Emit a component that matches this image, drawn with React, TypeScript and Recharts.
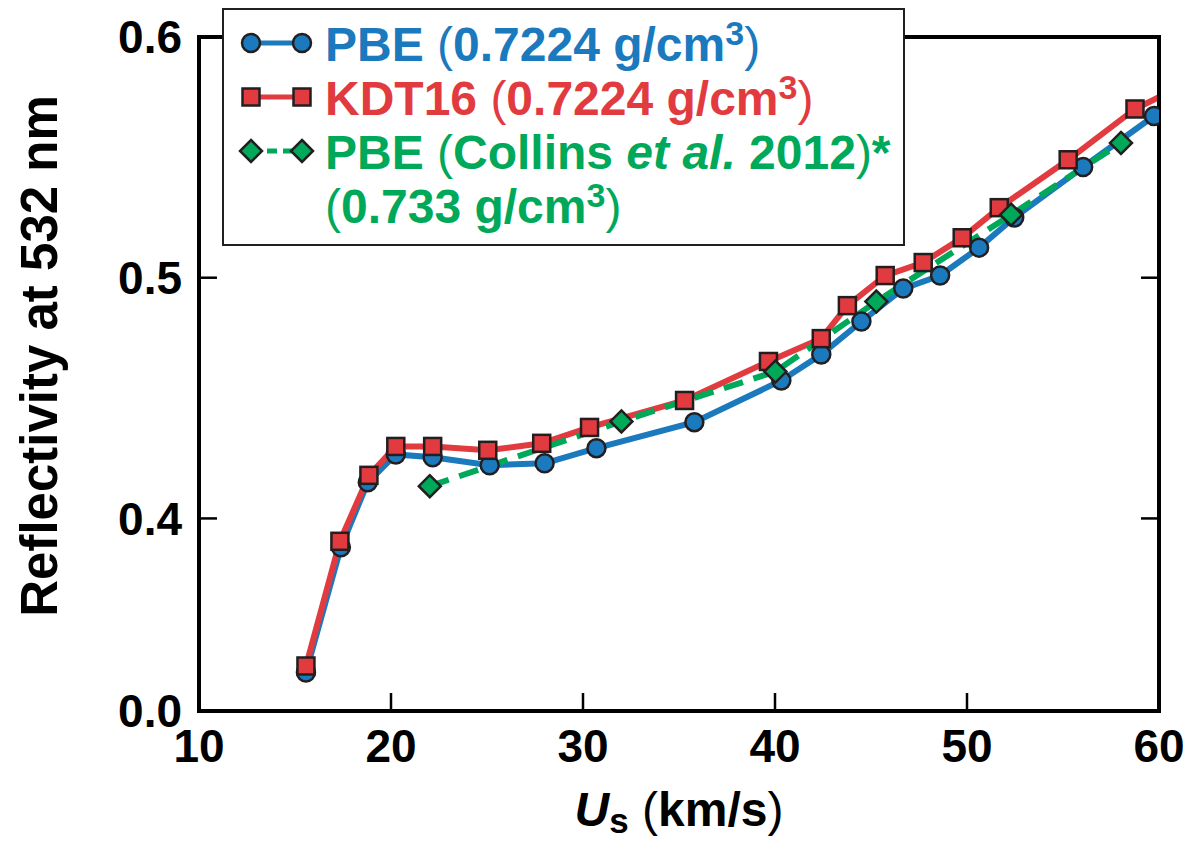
import { LineChart, Line, XAxis, YAxis, Legend } from "recharts";

const FONT = '"Liberation Sans", Arial, Helvetica, sans-serif';
const BLUE = "#1b79be";
const RED = "#e13b40";
const GREEN = "#00a85a";
const EDGE = "#231f20";

// PBE (0.7224 g/cm3)
const pbeUs = [15.57, 17.39, 18.79, 20.25, 22.17, 25.14, 28.0, 30.7, 35.8, 40.33, 42.41, 44.5, 46.68, 48.6, 50.63, 52.46, 56.05, 59.74];
const pbeR = [0.336, 0.388, 0.415, 0.4266, 0.4254, 0.4221, 0.4229, 0.4292, 0.44, 0.4573, 0.4681, 0.4818, 0.4955, 0.5009, 0.5125, 0.525, 0.546, 0.5672];

// KDT16 (0.7224 g/cm3), last point sits past the frame
const kdtUs = [15.57, 17.34, 18.85, 20.25, 22.17, 25.04, 27.85, 30.34, 35.29, 39.66, 42.41, 43.77, 45.74, 47.72, 49.75, 51.68, 55.27, 58.75, 62.2];
const kdtR = [0.3387, 0.3905, 0.4179, 0.4299, 0.4299, 0.4283, 0.4312, 0.4378, 0.449, 0.4652, 0.4747, 0.4884, 0.5009, 0.5063, 0.5166, 0.5291, 0.549, 0.5701, 0.5838];

// PBE, Collins et al. 2012 (0.733 g/cm3)
const collinsUs = [22.02, 32.0, 40.02, 45.28, 52.3, 58.02];
const collinsR = [0.4134, 0.4403, 0.461, 0.4901, 0.5262, 0.556];

const xTicks = [10, 20, 30, 40, 50, 60];
const yTicks = [0.32, 0.4, 0.5, 0.6];
const yTickLabels = ["0.0", "0.4", "0.5", "0.6"];

const toRows = (xs: number[], ys: number[]) => xs.map((x, i) => ({ x, y: ys[i] }));
const pbeData = toRows(pbeUs, pbeR);
const kdtData = toRows(kdtUs, kdtR);
const collinsData = toRows(collinsUs, collinsR);

const tickText = { fontSize: 46, fontWeight: 700, fill: "#000", fontFamily: FONT };
const tickLineStyle = { stroke: "#000", strokeWidth: 2.5 };
const axisLineStyle = { stroke: "#000", strokeWidth: 4, strokeLinecap: "square" as const };

const circleDot = (p: any) =>
  p.cx == null ? <g key={`c${p.index}`} /> : (
    <circle key={`c${p.index}`} cx={p.cx} cy={p.cy} r={9} fill={BLUE} stroke={EDGE} strokeWidth={2.5} />
  );

const squareDot = (p: any) =>
  p.cx == null ? <g key={`s${p.index}`} /> : (
    <rect key={`s${p.index}`} x={p.cx - 8.5} y={p.cy - 8.5} width={17} height={17} fill={RED} stroke={EDGE} strokeWidth={2.5} />
  );

const diamondDot = (p: any) =>
  p.cx == null ? <g key={`d${p.index}`} /> : (
    <polygon
      key={`d${p.index}`}
      points={`${p.cx},${p.cy - 11} ${p.cx + 11},${p.cy} ${p.cx},${p.cy + 11} ${p.cx - 11},${p.cy}`}
      fill={GREEN}
      stroke={EDGE}
      strokeWidth={2.5}
    />
  );

function XTitle({ viewBox }: any) {
  const { x, y, width } = viewBox;
  return (
    <text x={x + width / 2} y={y + 115} textAnchor="middle" fontFamily={FONT} fontSize={48} fontWeight={700} fill="#000">
      <tspan fontStyle="italic">U</tspan>
      <tspan fontSize={35} dy={7}>s</tspan>
      <tspan dy={-7}> </tspan>
      <tspan fontWeight={400}>(</tspan>
      <tspan>km/s</tspan>
      <tspan fontWeight={400}>)</tspan>
    </text>
  );
}

function YTitle({ viewBox }: any) {
  const cy = viewBox.y + viewBox.height / 2 - 18;
  return (
    <text x={57} y={cy} transform={`rotate(-90, 57, ${cy})`} textAnchor="middle" fontFamily={FONT} fontSize={51} fontWeight={700} fill="#000">
      Reflectivity at 532 nm
    </text>
  );
}

function LegendBox() {
  const txt = { fontFamily: FONT, fontSize: 48, fontWeight: 700 };
  const sup = (
    <tspan fontSize={34} dy={-16}>
      3
    </tspan>
  );
  return (
    <div style={{ width: 683, height: 238, boxSizing: "border-box", border: `2px solid ${EDGE}`, background: "#fff" }}>
      <svg width={679} height={234} style={{ display: "block" }}>
        <line x1={27} y1={33} x2={78} y2={33} stroke={BLUE} strokeWidth={5} />
        <circle cx={27} cy={33} r={9} fill={BLUE} stroke={EDGE} strokeWidth={2.5} />
        <circle cx={78} cy={33} r={9} fill={BLUE} stroke={EDGE} strokeWidth={2.5} />
        <text x={101} y={51} fill={BLUE} {...txt}>
          PBE <tspan fontWeight={400}>(</tspan>0.7224 g/cm{sup}
          <tspan dy={16} fontWeight={400}>)</tspan>
        </text>

        <line x1={27} y1={87} x2={78} y2={87} stroke={RED} strokeWidth={5} />
        <rect x={18.5} y={78.5} width={17} height={17} fill={RED} stroke={EDGE} strokeWidth={2.5} />
        <rect x={69.5} y={78.5} width={17} height={17} fill={RED} stroke={EDGE} strokeWidth={2.5} />
        <text x={101} y={105} fill={RED} {...txt}>
          KDT16 <tspan fontWeight={400}>(</tspan>0.7224 g/cm{sup}
          <tspan dy={16} fontWeight={400}>)</tspan>
        </text>

        <line x1={27} y1={141} x2={78} y2={141} stroke={GREEN} strokeWidth={5} strokeDasharray="10 6" />
        <polygon points="27,130 38,141 27,152 16,141" fill={GREEN} stroke={EDGE} strokeWidth={2.5} />
        <polygon points="78,130 89,141 78,152 67,141" fill={GREEN} stroke={EDGE} strokeWidth={2.5} />
        <text x={101} y={159} fill={GREEN} {...txt}>
          PBE <tspan fontWeight={400}>(</tspan>Collins <tspan fontStyle="italic">et al.</tspan> 2012
          <tspan fontWeight={400}>)</tspan>*
        </text>
        <text x={101} y={213} fill={GREEN} {...txt}>
          <tspan fontWeight={400}>(</tspan>0.733 g/cm{sup}
          <tspan dy={16} fontWeight={400}>)</tspan>
        </text>
      </svg>
    </div>
  );
}

export default function App() {
  return (
    <div style={{ position: "absolute", left: 0, top: 0, width: 1190, height: 842, background: "#fff" }}>
      <LineChart width={1190} height={842} margin={{ top: 37, right: 31, bottom: 31, left: 79 }}>
        <XAxis
          type="number"
          dataKey="x"
          domain={[10, 60]}
          ticks={xTicks}
          interval={0}
          allowDataOverflow
          height={100}
          tickSize={-18}
          tickMargin={36}
          tick={tickText}
          tickLine={tickLineStyle}
          axisLine={axisLineStyle}
          label={<XTitle />}
        />
        <XAxis
          xAxisId="top"
          orientation="top"
          mirror
          type="number"
          domain={[10, 60]}
          ticks={xTicks}
          interval={0}
          allowDataOverflow
          tickSize={18}
          tickFormatter={() => ""}
          tickLine={tickLineStyle}
          axisLine={axisLineStyle}
        />
        <YAxis
          type="number"
          domain={[0.32, 0.6]}
          ticks={yTicks}
          interval={0}
          allowDataOverflow
          width={120}
          tickSize={-18}
          tickMargin={35}
          tick={tickText}
          tickFormatter={(v: number) => yTickLabels[yTicks.indexOf(v)] ?? ""}
          tickLine={tickLineStyle}
          axisLine={axisLineStyle}
          label={<YTitle />}
        />
        <YAxis
          yAxisId="right"
          orientation="right"
          mirror
          type="number"
          domain={[0.32, 0.6]}
          ticks={yTicks}
          interval={0}
          allowDataOverflow
          tickSize={18}
          tickFormatter={() => ""}
          tickLine={tickLineStyle}
          axisLine={axisLineStyle}
        />
        <Line data={pbeData} dataKey="y" type="linear" stroke={BLUE} strokeWidth={6} dot={circleDot} isAnimationActive={false} />
        <Line data={kdtData} dataKey="y" type="linear" stroke={RED} strokeWidth={6} dot={squareDot} isAnimationActive={false} />
        <Line
          data={collinsData}
          dataKey="y"
          type="linear"
          stroke={GREEN}
          strokeWidth={6}
          strokeDasharray="20 11"
          dot={diamondDot}
          isAnimationActive={false}
        />
        <Legend
          layout="horizontal"
          verticalAlign="middle"
          align="center"
          content={() => <LegendBox />}
          wrapperStyle={{ position: "absolute", left: 222, top: 8, width: 683, height: 238 }}
        />
      </LineChart>
    </div>
  );
}
